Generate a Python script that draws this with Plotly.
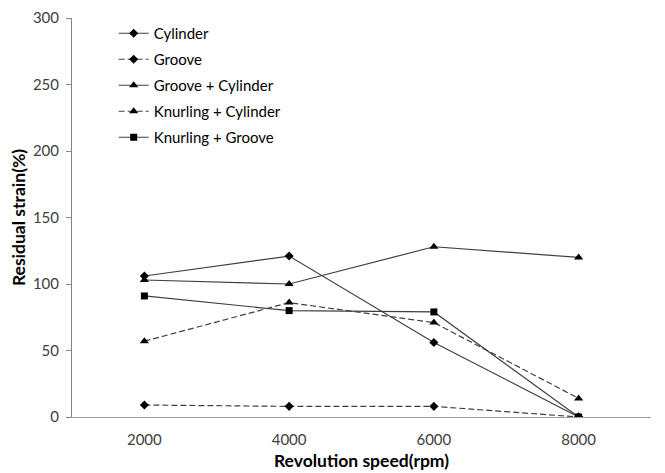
import plotly.graph_objects as go

categories = ["2000", "4000", "6000", "8000"]
cylinder = [106, 121, 56, 0]
groove = [9, 8, 8, 0]
groove_cylinder = [103, 100, 128, 120]
knurling_cylinder = [57, 86, 71, 14]
knurling_groove = [91, 80, 79, 0]

series = [
    ("Cylinder", cylinder, "solid", "diamond", 7),
    ("Groove", groove, "6px,3px", "diamond", 7),
    ("Groove + Cylinder", groove_cylinder, "solid", "triangle-up", 8),
    ("Knurling + Cylinder", knurling_cylinder, "6px,3px", "triangle-up", 8),
    ("Knurling + Groove", knurling_groove, "solid", "square", 7),
]

fig = go.Figure()
for i, (name, vals, dash, sym, size) in enumerate(series):
    fig.add_trace(go.Scatter(
        x=categories, y=vals, name=name, mode="lines+markers",
        line=dict(color="#404040", width=1.2, dash=dash),
        marker=dict(symbol=sym, size=size, color="black"),
        legendgroup=f"g{i}",
    ))

font = "Lato, 'Open Sans', sans-serif"
fig.update_layout(
    width=657, height=465,
    margin=dict(l=64, r=14, t=10, b=56, autoexpand=False),
    plot_bgcolor="white", paper_bgcolor="white",
    font=dict(family=font, size=15, color="#404040"),
    showlegend=True,
    legend=dict(x=0.072, y=1.0025, xanchor="left", yanchor="top",
                bgcolor="rgba(0,0,0,0)", font=dict(size=15, color="black"),
                tracegroupgap=3.5, itemwidth=30),
    xaxis=dict(type="category", range=[-0.5, 3.5], showline=True,
               linecolor="#a0a0a0", linewidth=1, ticks="", showgrid=False,
               automargin=False, ticklabelstandoff=9,
               tickfont=dict(size=15, color="#404040"),
               title=dict(text="<b>Revolution speed(rpm)</b>",
                          font=dict(size=17.5, color="black"), standoff=7)),
    yaxis=dict(range=[0, 300], tickvals=[0, 50, 100, 150, 200, 250, 300],
               showline=True, linecolor="#868686", linewidth=1,
               ticks="outside", ticklen=5, tickcolor="#868686",
               showgrid=False, zeroline=False, automargin=False,
               ticklabelstandoff=4,
               tickfont=dict(size=15, color="#404040"),
               title=dict(text="<b>Residual strain(%)</b>",
                          font=dict(size=17.5, color="black"), standoff=2)),
)

fig.write_html("out.html")
